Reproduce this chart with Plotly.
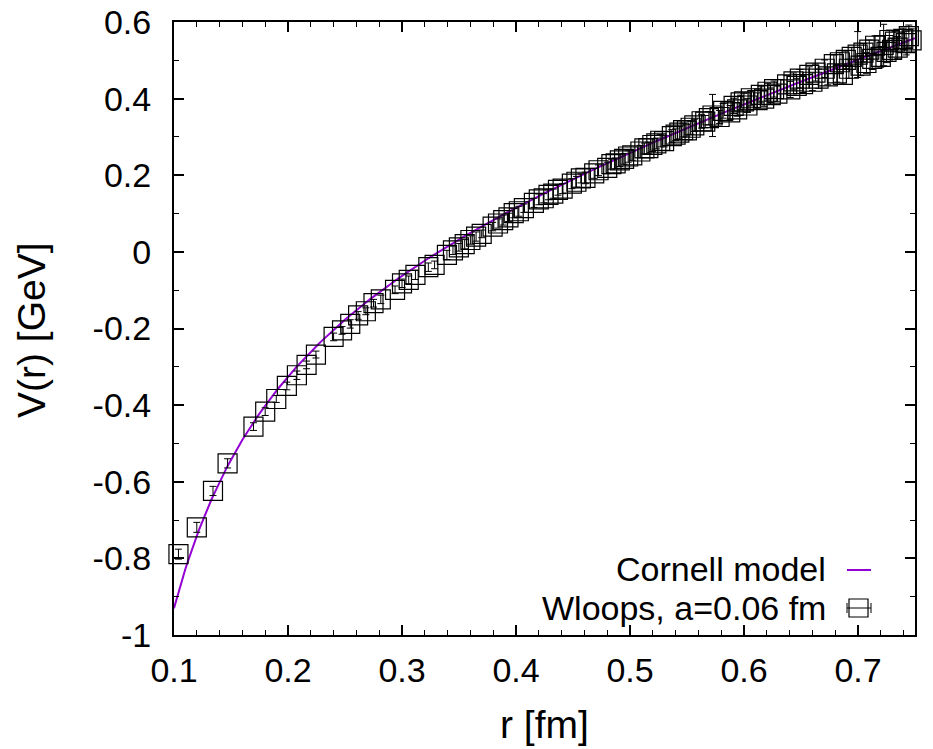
import numpy as np
import plotly.graph_objects as go

# Wilson-loop static potential data, a = 0.06 fm
r_fm = [0.1039, 0.12, 0.1342, 0.147, 0.1697, 0.18, 0.1897, 0.199, 0.2078, 0.2163,
        0.2245, 0.24, 0.2474, 0.2546, 0.2615, 0.2683, 0.275, 0.2814, 0.2939, 0.30,
        0.3059, 0.3118, 0.3231, 0.3286, 0.3394, 0.3447, 0.3499, 0.355, 0.36, 0.365,
        0.3699, 0.3795, 0.3842, 0.3888, 0.3934, 0.398, 0.4025, 0.4069, 0.4157, 0.42,
        0.4243, 0.4285, 0.4327, 0.4368, 0.4409, 0.449, 0.453, 0.4569, 0.4609, 0.4686,
        0.4724, 0.48, 0.4837, 0.4874, 0.4911, 0.4948, 0.4984, 0.502, 0.5091, 0.5126,
        0.5161, 0.5196, 0.5231, 0.5265, 0.5299, 0.5367, 0.54, 0.5433, 0.5466, 0.5499,
        0.5532, 0.5564, 0.5628, 0.566, 0.5692, 0.5724, 0.5786, 0.5817, 0.5879, 0.5909,
        0.594, 0.597, 0.60, 0.603, 0.606, 0.6119, 0.6148, 0.6177, 0.6206, 0.6235,
        0.6264, 0.6293, 0.6378, 0.6406, 0.6434, 0.6462, 0.649, 0.6518, 0.6573, 0.66,
        0.6627, 0.6654, 0.6708, 0.6735, 0.6788, 0.6815, 0.6841, 0.6867, 0.6893, 0.692,
        0.6945, 0.6997, 0.7023, 0.7048, 0.7074, 0.7099, 0.7125, 0.715, 0.72, 0.7225,
        0.725, 0.7275, 0.7299, 0.7324, 0.7348, 0.7397, 0.7422, 0.7446, 0.747]

v_gev = [-0.789, -0.719, -0.624, -0.552, -0.456, -0.417, -0.384, -0.350, -0.322, -0.295,
         -0.268, -0.222, -0.205, -0.188, -0.166, -0.155, -0.134, -0.124, -0.099, -0.082,
         -0.073, -0.060, -0.040, -0.034, -0.008, 0.004, 0.012, 0.020, 0.031, 0.040,
         0.047, 0.066, 0.074, 0.083, 0.090, 0.101, 0.106, 0.114, 0.128, 0.137,
         0.140, 0.149, 0.152, 0.162, 0.165, 0.178, 0.183, 0.192, 0.193, 0.205,
         0.213, 0.219, 0.229, 0.231, 0.239, 0.243, 0.249, 0.252, 0.262, 0.270,
         0.271, 0.279, 0.283, 0.290, 0.289, 0.302, 0.306, 0.311, 0.318, 0.317,
         0.324, 0.330, 0.341, 0.340, 0.349, 0.356, 0.352, 0.368, 0.364, 0.381,
         0.372, 0.390, 0.393, 0.382, 0.401, 0.396, 0.410, 0.400, 0.418, 0.409,
         0.425, 0.413, 0.437, 0.424, 0.445, 0.433, 0.452, 0.438, 0.462, 0.444,
         0.468, 0.452, 0.478, 0.458, 0.490, 0.466, 0.495, 0.462, 0.501, 0.478,
         0.509, 0.515, 0.486, 0.520, 0.493, 0.528, 0.504, 0.538, 0.509, 0.540,
         0.522, 0.553, 0.527, 0.549, 0.533, 0.556, 0.545, 0.563, 0.552]

v_err = [0.013, 0.013, 0.012, 0.012,
         0.010, 0.010, 0.009, 0.010, 0.011, 0.010, 0.009, 0.010, 0.010, 0.011, 0.010, 0.009, 0.010, 0.011,
         0.010, 0.011, 0.010, 0.012, 0.011, 0.010, 0.012, 0.011, 0.010, 0.012, 0.011, 0.012, 0.010, 0.011,
         0.012, 0.013, 0.011, 0.012, 0.013, 0.011, 0.012, 0.014, 0.012, 0.013, 0.012, 0.014, 0.013,
         0.013, 0.014, 0.012, 0.015, 0.013, 0.014, 0.015, 0.013, 0.014, 0.016, 0.014, 0.015, 0.013, 0.016,
         0.014, 0.015, 0.017, 0.014, 0.016, 0.015, 0.017, 0.015, 0.016, 0.018, 0.015, 0.017, 0.016, 0.018,
         0.016, 0.017,
         0.055,
         0.017, 0.019, 0.018, 0.020, 0.018, 0.019, 0.021, 0.018, 0.020, 0.019, 0.021, 0.020, 0.022, 0.019,
         0.021, 0.020, 0.023, 0.021, 0.022, 0.020, 0.024, 0.022, 0.021, 0.023, 0.022, 0.025, 0.023, 0.022,
         0.024, 0.023, 0.026, 0.024, 0.023, 0.025, 0.024,
         0.060,
         0.026, 0.024, 0.027, 0.025, 0.028, 0.026, 0.027,
         0.054,
         0.028, 0.026, 0.030, 0.027, 0.029, 0.028, 0.031, 0.029, 0.030]

# Cornell model parameters: V(r) = -A/r + sigma*r + C
cornell_A = 0.1024
cornell_sigma = 0.9236
cornell_C = 0.0016

x_tickvals = [0.1, 0.2, 0.3, 0.4, 0.5, 0.6, 0.7]
x_ticktext = ["0.1", "0.2", "0.3", "0.4", "0.5", "0.6", "0.7"]
y_tickvals = [-1.0, -0.8, -0.6, -0.4, -0.2, 0.0, 0.2, 0.4, 0.6]
y_ticktext = ["-1", "-0.8", "-0.6", "-0.4", "-0.2", "0", "0.2", "0.4", "0.6"]

FONT = "Liberation Sans, Arial, Helvetica, sans-serif"
FS_TICK = 34
FS_KEY = 34
FS_TITLE = 39
PURPLE = "#9400d3"

# figure fills the whole 933x749 window (body margin removed below)
W, H = 933, 749
ML, MT = 174, 22
PW, PH = 741, 613
MR = W - ML - PW
MB = H - MT - PH

r_model = np.linspace(0.1, 0.75, 400)
v_model = -cornell_A / r_model + cornell_sigma * r_model + cornell_C

fig = go.Figure()
fig.add_trace(go.Scatter(x=r_model, y=v_model, mode="lines",
                         line=dict(color=PURPLE, width=2), showlegend=False))
fig.add_trace(go.Scatter(x=r_fm, y=v_gev, mode="markers",
                         marker=dict(symbol="square-open", size=19, color="black",
                                     line=dict(width=1.2, color="black")),
                         error_y=dict(type="data", array=v_err, visible=True,
                                      color="black", thickness=1, width=3.5),
                         cliponaxis=False, showlegend=False))

axis_common = dict(showline=True, linecolor="black", linewidth=2, mirror="allticks",
                   ticks="inside", ticklen=10, tickwidth=1.5, tickcolor="black",
                   showgrid=False, zeroline=False, automargin=False,
                   ticklabeloverflow="allow",
                   tickfont=dict(family=FONT, size=FS_TICK, color="black"))

fig.update_xaxes(range=[0.1, 0.75], tickvals=x_tickvals, ticktext=x_ticktext,
                 ticklabelstandoff=4,
                 minor=dict(ticks="inside", ticklen=5, tickwidth=1.2, tickcolor="black", dtick=0.02,
                            tick0=0.1, showgrid=False),
                 **axis_common)
fig.update_yaxes(range=[-1.0, 0.6], tickvals=y_tickvals, ticktext=y_ticktext,
                 ticklabelstandoff=14,
                 minor=dict(ticks="inside", ticklen=5, tickwidth=1.2, tickcolor="black", dtick=0.1,
                            tick0=0.0, showgrid=False),
                 **axis_common)

# target pixel positions (in the 933x749 window) -> paper coordinates
def px(xp):
    return (xp - ML) / float(PW)

def py(yp):
    return (MT + PH - yp) / float(PH)

# axis titles
fig.add_annotation(xref="paper", yref="paper", x=0.5, y=py(724), text="r [fm]",
                   xanchor="center", yanchor="middle", showarrow=False,
                   font=dict(family=FONT, size=FS_TITLE, color="black"))
fig.add_annotation(xref="paper", yref="paper", x=px(31), y=py(330), text="V(r) [GeV]", textangle=-90,
                   xanchor="center", yanchor="middle", showarrow=False,
                   font=dict(family=FONT, size=FS_TITLE, color="black"))

# key (gnuplot style: text then sample on the right)
fig.add_annotation(xref="paper", yref="paper", x=px(827), y=py(569), text="Cornell model",
                   xanchor="right", yanchor="middle", showarrow=False, borderpad=0,
                   font=dict(family=FONT, size=FS_KEY, color="black"))
fig.add_annotation(xref="paper", yref="paper", x=px(827), y=py(608), text="Wloops, a=0.06 fm",
                   xanchor="right", yanchor="middle", showarrow=False, borderpad=0,
                   font=dict(family=FONT, size=FS_KEY, color="black"))
fig.add_shape(type="line", xref="paper", yref="paper", x0=px(847), x1=px(871), y0=py(570), y1=py(570),
              line=dict(color=PURPLE, width=2))
fig.add_shape(type="rect", xref="paper", yref="paper", x0=px(849), x1=px(868), y0=py(617), y1=py(599),
              line=dict(color="black", width=1.2))
fig.add_shape(type="line", xref="paper", yref="paper", x0=px(847), x1=px(871), y0=py(608), y1=py(608),
              line=dict(color="black", width=1))
fig.add_shape(type="line", xref="paper", yref="paper", x0=px(847), x1=px(847), y0=py(603), y1=py(613),
              line=dict(color="black", width=1))
fig.add_shape(type="line", xref="paper", yref="paper", x0=px(871), x1=px(871), y0=py(603), y1=py(613),
              line=dict(color="black", width=1))

fig.update_layout(width=W, height=H, margin=dict(l=ML, r=MR, t=MT, b=MB),
                  plot_bgcolor="white", paper_bgcolor="white",
                  font=dict(family=FONT, size=FS_TICK, color="black"))

fig.write_html("out.html", config={"displayModeBar": False},
               post_script="document.body.style.margin='0';document.body.style.overflow='hidden';")
